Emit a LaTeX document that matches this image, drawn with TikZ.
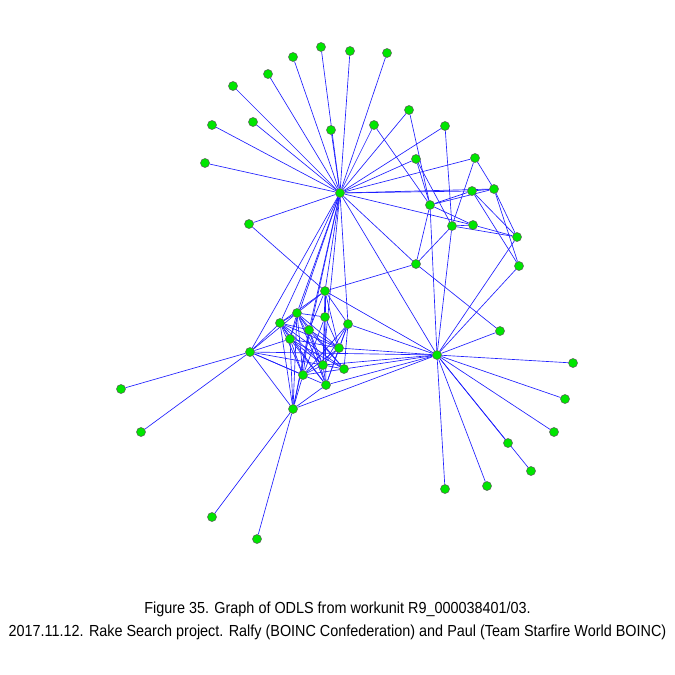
\documentclass[tikz,border=0pt]{standalone}
\usepackage{fontspec}
\setmainfont{Liberation Sans}
\usetikzlibrary{backgrounds}

\definecolor{dotgreen}{RGB}{0,230,0}
\definecolor{linkblue}{RGB}{30,30,255}

\begin{document}
\begin{tikzpicture}[
        x=1pt, y=-1pt,
        % graph vertex
        vertex/.style={
            circle,
            fill=dotgreen,
            draw=black!65,
            line width=0.5pt,
            inner sep=0pt,
            minimum size=9pt
        },
        % graph edge
        link/.style={
            draw=linkblue,
            line width=0.65pt
        },
        caption/.style={
            font=\fontsize{16}{18}\selectfont,
            inner sep=0pt
        }
    ]
    \useasboundingbox (0,0) rectangle (675,675);

    % ================= hubs =================
    \node[vertex] (hubN) at (340,193) {};
    \node[vertex] (hubE) at (437,355) {};
    \node[vertex] (hubW) at (250,352) {};
    \node[vertex] (hubS) at (293,409) {};

    % ================= fan above hubN =================
    \foreach \name/\pos in {
        f1/{(321,47)}, f2/{(350,51)}, f3/{(387,53)}, f4/{(293,57)},
        f5/{(268,74)}, f6/{(233,86)}, f7/{(212,125)}, f8/{(253,122)},
        f9/{(331,130)}, f10/{(374,125)}, f11/{(409,110)}, f12/{(445,126)},
        f13/{(205,163)}, f14/{(249,224)}}
        \node[vertex] (\name) at \pos {};

    % ================= right group =================
    \foreach \name/\pos in {
        r1/{(416,159)}, r2/{(475,158)}, r3/{(472,191)}, r4/{(494,189)},
        r5/{(430,205)}, r6/{(452,226)}, r7/{(473,225)}, r8/{(517,237)},
        r9/{(519,266)}, r10/{(416,264)}, r11/{(500,331)}}
        \node[vertex] (\name) at \pos {};

    % ================= dense group =================
    \foreach \name/\pos in {
        c1/{(325,291)}, c2/{(297,313)}, c3/{(280,323)}, c4/{(325,317)},
        c5/{(309,330)}, c6/{(348,324)}, c7/{(290,339)}, c8/{(339,348)},
        c9/{(323,365)}, c10/{(344,369)}, c11/{(303,375)}, c12/{(326,385)}}
        \node[vertex] (\name) at \pos {};

    % ================= leaves =================
    \foreach \name/\pos in {
        e1/{(573,363)}, e2/{(565,399)}, e3/{(554,432)}, e4/{(508,443)},
        e5/{(531,471)}, e6/{(487,486)}, e7/{(445,489)},
        w1/{(121,389)}, w2/{(141,432)},
        s1/{(212,517)}, s2/{(257,539)}}
        \node[vertex] (\name) at \pos {};

    % ================= edges =================
    \begin{scope}[on background layer]
        \foreach \a/\b in {
            hubN/f1, hubN/f2, hubN/f3, hubN/f4, hubN/f5, hubN/f6, hubN/f7,
            hubN/f8, hubN/f9, hubN/f10, hubN/f11, hubN/f12, hubN/f13, hubN/f14,
            hubN/r1, hubN/r2, hubN/r3, hubN/r4, hubN/r7, hubN/r10, hubN/hubE,
            hubN/hubW, hubN/hubS, hubN/c1, hubN/c2, hubN/c3, hubN/c5,
            hubN/c6, hubN/c7, hubN/c9,
            f14/c1, f10/r5, f11/r5, f12/r6,
            r1/r5, r1/r6, r2/r4, r2/r6, r3/r4, r3/r8, r3/r9, r4/r8, r4/r9,
            r5/r3, r5/r4, r5/r7, r5/r10, r5/hubE, r6/r7, r6/r10, r6/hubE,
            r6/r8, r7/r8, r8/hubE, r9/hubE, r10/c1, r10/r11, r11/hubE,
            hubE/c1, hubE/hubW, hubE/hubS, hubE/c8, hubE/c9, hubE/c10,
            hubE/c12, hubE/c6, hubE/e1, hubE/e2, hubE/e3, hubE/e4, hubE/e5,
            hubE/e6, hubE/e7,
            hubW/hubS, hubW/c2, hubW/c3, hubW/c7, hubW/c11, hubW/c12,
            hubW/c9, hubW/w1, hubW/w2,
            hubS/c2, hubS/c3, hubS/c7, hubS/c11, hubS/c12, hubS/c5,
            hubS/s1, hubS/s2,
            c1/c2, c1/c3, c1/c4, c1/c5, c1/c6, c1/c8, c1/c9,
            c2/c3, c2/c4, c2/c5, c2/c7, c2/c8, c2/c9, c2/c10, c2/c11, c2/c12,
            c3/c5, c3/c7, c3/c8, c3/c9, c3/c10, c3/c11, c3/c12,
            c4/c8, c4/c9, c4/c11, c4/c12,
            c5/c8, c5/c9, c5/c10, c5/c11, c5/c12,
            c6/c8, c6/c9, c6/c10, c6/c11, c6/c12,
            c7/c8, c7/c9, c7/c10, c7/c11, c7/c12,
            c8/c9, c8/c11, c8/c12, c9/c10, c9/c11, c9/c12, c10/c11}
            \draw[link] (\a) -- (\b);
    \end{scope}

    % ================= caption =================
    \node[caption] (capA) at (337.5,609) {\scalebox{0.9}[1]{Figure 35. Graph of ODLS from workunit R9\_000038401/03.}};
    \node[caption] (capB) at (337.5,632) {\scalebox{0.9}[1]{2017.11.12. Rake Search project. Ralfy (BOINC Confederation) and Paul (Team Starfire World BOINC)}};

\end{tikzpicture}
\end{document}
